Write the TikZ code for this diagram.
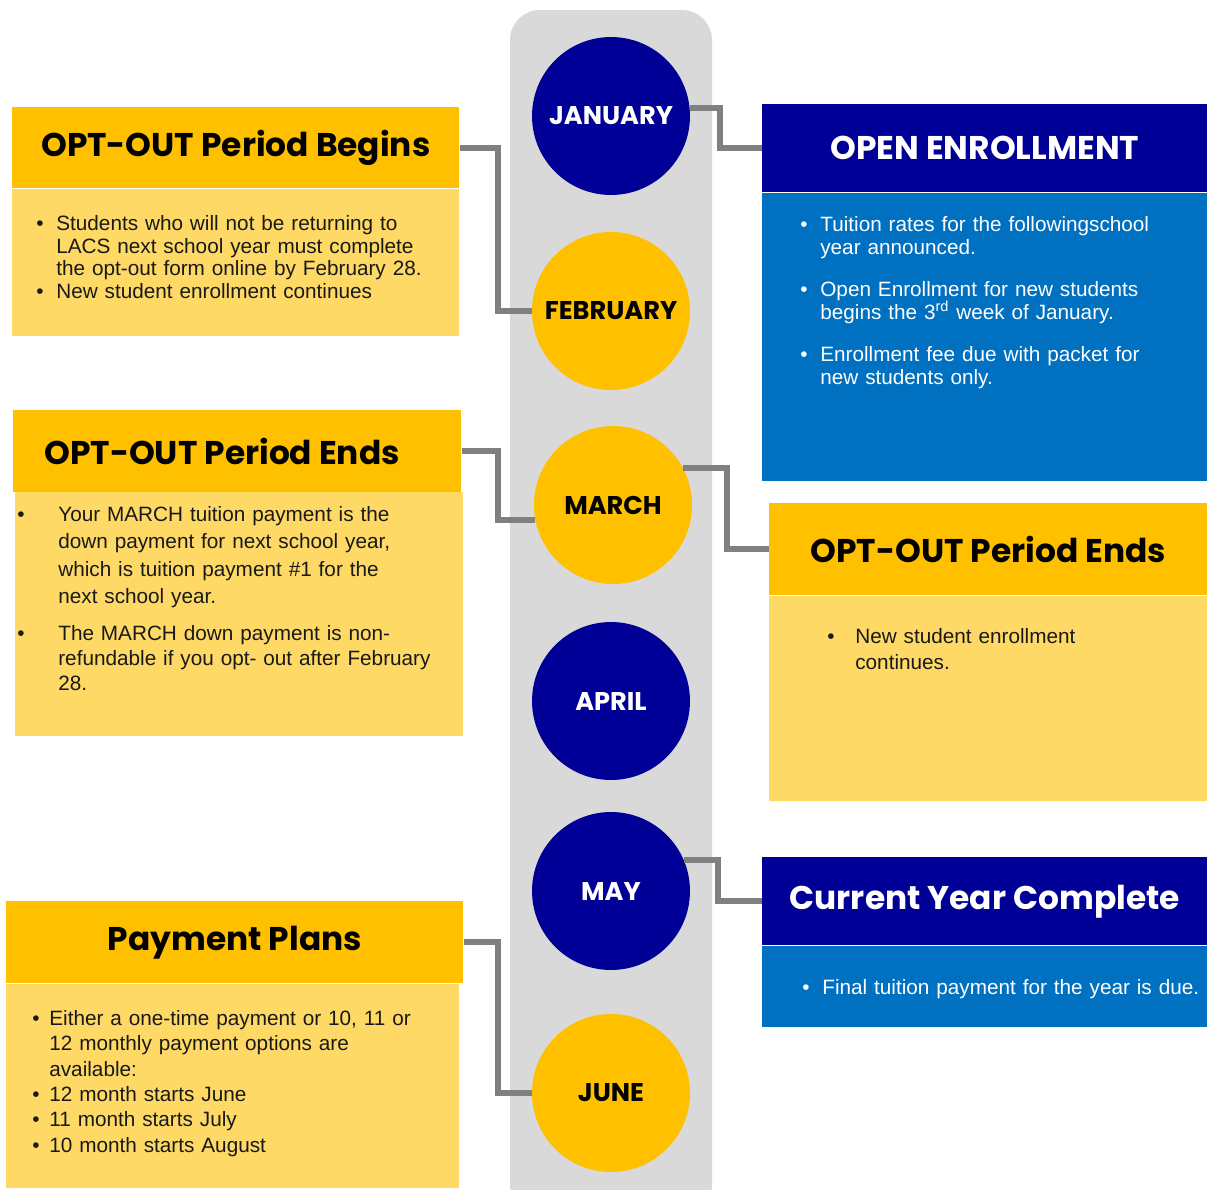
\documentclass[tikz,border=0pt]{standalone}
\usepackage{fontspec}
\setmainfont{Liberation Sans}
\newfontfamily\headfont{Poppins}
\usepackage{xcolor}
\usepackage{tikz}
\usetikzlibrary{positioning}

\definecolor{navy}{RGB}{0,0,150}
\definecolor{midblue}{RGB}{0,112,192}
\definecolor{amber}{RGB}{255,192,0}
\definecolor{sand}{RGB}{255,217,102}
\definecolor{spine}{RGB}{217,217,217}
\definecolor{wire}{RGB}{128,128,128}

% bullet item with hanging indent
\newcommand\itm[2][0.4cm]{\par\hangindent=#1\hangafter=1\noindent\makebox[#1][l]{\textbullet}#2\par}

\begin{document}
\begin{tikzpicture}[
  x=0.02cm, y=-0.02cm,
  hdr/.style={rectangle, anchor=north west, inner sep=0pt, minimum width=8.94cm, minimum height=1.62cm, font=\headfont\bfseries\fontsize{18.7}{22}\selectfont},
  sheet/.style={rectangle, anchor=north west, inner sep=0pt, minimum width=8.94cm},
  month/.style={circle, minimum size=3.16cm, inner sep=0pt, font=\headfont\bfseries\fontsize{14.6}{18}\selectfont},
  link/.style={draw=wire, line width=3.4pt},
  txt/.style={anchor=north west, inner sep=0pt, text width=8.4cm, align=left, font=\fontsize{11.8}{13}\selectfont},
]

\useasboundingbox (0,0) rectangle (1207,1190);

% timeline bar
\fill[fill=spine, rounded corners=0.6cm] (510,10) rectangle (712,1215);

% left column
\node[hdr, fill=amber] (begins) at (12,107) {OPT-OUT Period Begins};
\node[sheet, fill=sand, minimum height=2.94cm] (beginsbody) at (begins.south west) {};
\node[txt, text=black!90] (beginstext) at (36,207) {%
  \itm{Students who will not be returning to\newline LACS next school year must complete\newline the opt-out form online by February 28.}
  \itm{New student enrollment continues}};

\node[hdr, fill=amber, minimum width=8.96cm, minimum height=1.64cm, text width=7.96cm, inner xsep=0.5cm, align=flush left] (endsl) at (13,410) {\hspace{0.12cm}OPT-OUT Period Ends};
\node[sheet, fill=sand, minimum width=8.96cm, minimum height=4.88cm] (endslbody) at (15,492) {};
\node[txt, text=black!90, font=\fontsize{11.8}{15.5}\selectfont] (endsltext) at (17,494) {%
  \itm[0.82cm]{Your MARCH tuition payment is the\newline down payment for next school year,\newline which is tuition payment \#1 for the\newline next school year.}
  \vspace{7pt}\fontsize{11.8}{14.2}\selectfont
  \itm[0.82cm]{The MARCH down payment is non-\newline refundable if you opt- out after February\newline 28.}};

\node[hdr, fill=amber, minimum width=9.14cm, minimum height=1.64cm] (pay) at (6,901) {Payment Plans};
\node[sheet, fill=sand, minimum width=9.06cm, minimum height=4.08cm] (paybody) at (pay.south west) {};
\node[txt, text=black!90, font=\fontsize{11.8}{14.4}\selectfont] (paytext) at (32,1000) {%
  \itm[0.34cm]{Either a one-time payment or 10, 11 or\newline 12 monthly payment options are\newline available:}
  \itm[0.34cm]{12 month starts June}
  \itm[0.34cm]{11 month starts July}
  \itm[0.34cm]{10 month starts August}};

% right column
\node[hdr, fill=navy, text=white, minimum width=8.9cm, minimum height=1.76cm] (open) at (762,104) {OPEN ENROLLMENT};
\node[sheet, fill=midblue, minimum width=8.9cm, minimum height=5.76cm] (openbody) at (open.south west) {};
\node[txt, text=white] (opentext) at (800,208) {%
  \itm{Tuition rates for the followingschool\newline year announced.}
  \vspace{11pt}
  \itm{Open Enrollment for new students\newline begins the 3\textsuperscript{rd} week of January.}
  \vspace{11pt}
  \itm{Enrollment fee due with packet for\newline new students only.}};

\node[hdr, fill=amber, minimum width=8.76cm, minimum height=1.84cm] (endsr) at (769,503) {OPT-OUT Period Ends};
\node[sheet, fill=sand, minimum width=8.76cm, minimum height=4.1cm] (endsrbody) at (endsr.south west) {};
\node[txt, text=black!90, font=\fontsize{11.8}{14.7}\selectfont] (endsrtext) at (827,617) {%
  \itm[0.56cm]{New student enrollment\newline continues.}};

\node[hdr, fill=navy, text=white, minimum width=8.9cm, minimum height=1.76cm] (cur) at (762,857) {Current Year Complete};
\node[sheet, fill=midblue, minimum width=8.9cm, minimum height=1.62cm] (curbody) at (cur.south west) {};
\node[txt, text=white] (curtext) at (802,971) {%
  \itm{Final tuition payment for the year is due.}};

% months
\node[month, fill=navy, text=white] (jan) at (611,116) {JANUARY};
\node[month, fill=amber, text=black] (feb) at (611,311) {FEBRUARY};
\node[month, fill=amber, text=black] (mar) at (613,505) {MARCH};
\node[month, fill=navy, text=white] (apr) at (611,701) {APRIL};
\node[month, fill=navy, text=white] (may) at (611,891) {MAY};
\node[month, fill=amber, text=black] (jun) at (611,1093) {JUNE};

% elbow connectors
\draw[link] (begins.east) -- ++(38,0) |- (feb.west);
\draw[link] (jan.6) -- ++(30,0) |- (open.west);
\draw[link] (endsl.east) -- ++(36,0) |- (mar.191);
\draw[link] (mar.28) -- ++(44,0) |- (endsr.west);
\draw[link] (may.23) -- ++(34,0) |- (cur.west);
\draw[link] (pay.east) -- ++(34,0) |- (jun.west);

\end{tikzpicture}
\end{document}
